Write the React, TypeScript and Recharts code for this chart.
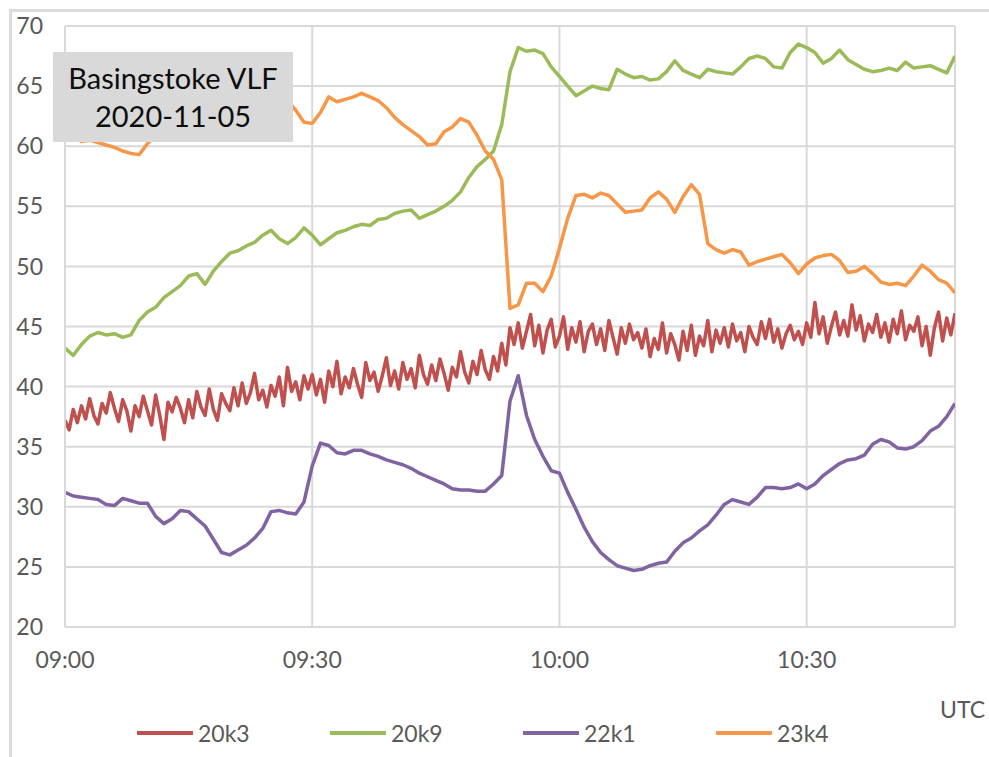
import React from 'react';
import { LineChart, Line, XAxis, YAxis, CartesianGrid } from 'recharts';

const seriesNames = ['20k3', '20k9', '22k1', '23k4'];
const seriesColors = ['#C0504D', '#9BBB59', '#8064A2', '#F79646'];

const xTicks = [0, 30, 60, 90]; // minutes after 09:00
const xTickLabels = ['09:00', '09:30', '10:00', '10:30'];
const yTicks = [20, 25, 30, 35, 40, 45, 50, 55, 60, 65, 70];

// 20k3 is noisy, read every 30 s from 09:00
const sig20k3 = [
  37.2, 36.4, 38.1, 37.0, 38.4, 37.3, 39.0, 37.6, 36.9, 38.6,
  37.8, 39.5, 38.2, 37.1, 38.9, 38.0, 36.3, 38.4, 37.5, 39.2,
  38.0, 36.8, 39.3, 37.6, 35.6, 38.7, 37.9, 39.1, 38.2, 37.0,
  38.9, 37.4, 39.6, 38.3, 37.6, 39.8, 38.1, 37.2, 39.4, 38.6,
  38.0, 39.9, 38.4, 40.3, 38.6, 39.5, 41.1, 38.9, 39.7, 38.3,
  40.1, 39.2, 40.8, 38.4, 41.6, 39.6, 40.4, 38.9, 40.9, 39.8,
  41.0, 39.3, 40.6, 38.7, 41.3, 40.0, 42.1, 39.4, 40.8, 39.9,
  41.5, 40.2, 39.1, 42.0, 40.5, 41.2, 39.6, 40.9, 42.4, 40.1,
  41.3, 39.8, 42.0, 40.6, 41.5, 39.9, 42.6, 41.0, 40.2, 41.8,
  40.5, 42.3, 41.1, 39.7, 41.6, 40.8, 42.9, 41.2, 40.3, 42.1,
  41.0, 43.0, 41.4, 40.6, 42.5, 41.3, 43.6, 41.8, 44.9, 43.5,
  45.3, 43.2, 44.6, 46.0, 43.4, 45.1, 42.8, 44.7, 45.6, 43.3,
  44.2, 45.8, 43.1, 44.9, 43.7, 45.4, 42.9, 44.6, 45.2, 43.5,
  44.8, 43.0, 45.5, 44.1, 42.7, 44.9, 43.6, 45.2, 43.9, 44.5,
  43.2, 44.8, 42.5, 44.0, 43.1, 45.3, 42.8, 44.4, 43.5, 42.2,
  44.6, 43.0, 45.1, 42.6, 44.2, 43.4, 45.5, 42.9, 44.7, 43.6,
  44.9, 43.3, 45.2, 43.8, 44.5, 42.9, 45.0, 44.1, 43.5, 45.4,
  44.0, 45.6, 43.7, 44.8, 43.2, 44.4, 45.1, 43.9, 44.6, 43.5,
  45.3, 44.1, 47.0, 44.4, 45.8, 43.6, 45.0, 46.2, 44.3, 45.5,
  44.2, 46.8, 44.7, 45.9, 43.8, 45.2, 44.5, 46.0, 44.1, 45.3,
  43.7, 45.6, 44.4, 46.3, 43.9, 45.1, 44.6, 45.8, 43.4, 45.0,
  42.6, 44.9, 46.2, 43.8, 45.7, 44.3, 46.1,
];

// the other three, one reading a minute
const sig20k9 = [
  43.2, 42.6, 43.5, 44.2, 44.5, 44.3, 44.4, 44.1, 44.3, 45.5,
  46.2, 46.6, 47.4, 47.9, 48.4, 49.2, 49.4, 48.5, 49.6, 50.4,
  51.1, 51.3, 51.7, 52.0, 52.6, 53.0, 52.3, 51.9, 52.4, 53.2,
  52.6, 51.8, 52.3, 52.8, 53.0, 53.3, 53.5, 53.4, 53.9, 54.0,
  54.4, 54.6, 54.7, 54.0, 54.3, 54.6, 55.0, 55.5, 56.2, 57.4,
  58.3, 58.9, 59.6, 61.8, 66.2, 68.2, 67.9, 68.0, 67.7, 66.6,
  65.8, 65.0, 64.2, 64.6, 65.0, 64.8, 64.7, 66.4, 66.0, 65.7,
  65.8, 65.5, 65.6, 66.2, 67.1, 66.3, 66.0, 65.7, 66.4, 66.2,
  66.1, 66.0, 66.6, 67.3, 67.5, 67.3, 66.6, 66.5, 67.8, 68.5,
  68.2, 67.8, 66.9, 67.3, 68.0, 67.2, 66.8, 66.4, 66.2, 66.3,
  66.5, 66.3, 67.0, 66.5, 66.6, 66.7, 66.4, 66.1, 67.5,
];

const sig22k1 = [
  31.2, 30.9, 30.8, 30.7, 30.6, 30.2, 30.1, 30.7, 30.5, 30.3,
  30.3, 29.2, 28.6, 29.0, 29.7, 29.6, 29.0, 28.4, 27.3, 26.2,
  26.0, 26.4, 26.8, 27.4, 28.2, 29.6, 29.7, 29.5, 29.4, 30.4,
  33.4, 35.3, 35.1, 34.5, 34.4, 34.7, 34.7, 34.4, 34.2, 33.9,
  33.7, 33.5, 33.2, 32.8, 32.5, 32.2, 31.9, 31.5, 31.4, 31.4,
  31.3, 31.3, 31.9, 32.6, 38.8, 40.9, 37.6, 35.6, 34.2, 33.0,
  32.8, 31.2, 29.8, 28.3, 27.1, 26.2, 25.6, 25.1, 24.9, 24.7,
  24.8, 25.1, 25.3, 25.4, 26.3, 27.0, 27.4, 28.0, 28.5, 29.3,
  30.2, 30.6, 30.4, 30.2, 30.8, 31.6, 31.6, 31.5, 31.6, 31.9,
  31.5, 31.9, 32.6, 33.1, 33.6, 33.9, 34.0, 34.3, 35.2, 35.6,
  35.4, 34.9, 34.8, 35.0, 35.5, 36.3, 36.7, 37.5, 38.6,
];

const sig23k4 = [
  60.6, 60.8, 60.4, 60.5, 60.3, 60.1, 59.9, 59.6, 59.4, 59.3,
  60.2, 60.9, 61.5, 62.0, 62.4, 62.8, 63.2, 63.5, 63.8, 64.0,
  64.3, 64.5, 64.7, 64.6, 64.9, 64.4, 64.3, 63.8, 63.0, 62.0,
  61.9, 62.8, 64.1, 63.7, 63.9, 64.1, 64.4, 64.1, 63.8, 63.2,
  62.4, 61.8, 61.3, 60.8, 60.1, 60.2, 61.2, 61.6, 62.3, 62.0,
  60.9, 59.6, 58.9, 57.2, 46.5, 46.8, 48.6, 48.6, 47.9, 49.2,
  51.5, 54.0, 55.9, 56.0, 55.7, 56.1, 55.9, 55.2, 54.5, 54.6,
  54.7, 55.7, 56.2, 55.6, 54.5, 55.8, 56.8, 56.0, 51.9, 51.4,
  51.1, 51.4, 51.2, 50.1, 50.4, 50.6, 50.8, 51.0, 50.3, 49.4,
  50.2, 50.7, 50.9, 51.0, 50.5, 49.5, 49.6, 50.0, 49.4, 48.7,
  48.5, 48.6, 48.4, 49.2, 50.1, 49.6, 48.9, 48.6, 47.8,
];

const data20k3 = sig20k3.map((v, i) => ({ t: i / 2, v }));
const dataMin = sig20k9.map((_, i) => ({
  t: i,
  s20k9: sig20k9[i],
  s22k1: sig22k1[i],
  s23k4: sig23k4[i],
}));

const tickStyle = { fill: '#595959', fontSize: 23, fontFamily: 'Lato' };
const gridColor = '#d9d9d9';
const lineWidth = 3.5;

export default function App() {
  return (
    <div
      style={{
        position: 'absolute',
        left: 0,
        top: 0,
        width: 989,
        height: 757,
        background: '#fff',
        overflow: 'hidden',
        fontFamily: 'Lato, sans-serif',
      }}
    >
      {/* outer chart frame, cut off at right and bottom */}
      <div
        style={{
          position: 'absolute',
          left: 9,
          top: 9,
          width: 1100,
          height: 900,
          borderTop: '3px solid #dcdcdc',
          borderLeft: '3px solid #dcdcdc',
        }}
      />
      <LineChart
        width={989}
        height={757}
        data={dataMin}
        margin={{ top: 26, right: 34, bottom: 100, left: 0 }}
        style={{ position: 'absolute', left: 0, top: 0 }}
      >
        <CartesianGrid stroke={gridColor} strokeWidth={2} />
        <XAxis
          dataKey="t"
          type="number"
          domain={[0, 108]}
          ticks={xTicks}
          tickFormatter={(t: number) => xTickLabels[xTicks.indexOf(t)]}
          tick={tickStyle}
          tickLine={false}
          tickMargin={19}
          height={30}
          axisLine={{ stroke: gridColor, strokeWidth: 2 }}
          allowDataOverflow
        />
        <YAxis
          type="number"
          domain={[20, 70]}
          ticks={yTicks}
          tick={tickStyle}
          tickLine={false}
          tickMargin={16}
          width={65}
          axisLine={{ stroke: gridColor, strokeWidth: 2 }}
        />
        <Line
          data={data20k3}
          dataKey="v"
          name={seriesNames[0]}
          stroke={seriesColors[0]}
          strokeWidth={lineWidth}
          strokeLinejoin="round"
          dot={false}
          type="linear"
          isAnimationActive={false}
        />
        <Line
          dataKey="s20k9"
          name={seriesNames[1]}
          stroke={seriesColors[1]}
          strokeWidth={lineWidth}
          strokeLinejoin="round"
          dot={false}
          type="linear"
          isAnimationActive={false}
        />
        <Line
          dataKey="s22k1"
          name={seriesNames[2]}
          stroke={seriesColors[2]}
          strokeWidth={lineWidth}
          strokeLinejoin="round"
          dot={false}
          type="linear"
          isAnimationActive={false}
        />
        <Line
          dataKey="s23k4"
          name={seriesNames[3]}
          stroke={seriesColors[3]}
          strokeWidth={lineWidth}
          strokeLinejoin="round"
          dot={false}
          type="linear"
          isAnimationActive={false}
        />
      </LineChart>

      {/* title box */}
      <div
        style={{
          position: 'absolute',
          left: 53,
          top: 52,
          width: 240,
          height: 90,
          background: '#d9d9d9',
          color: '#0d0d0d',
          fontSize: 29,
          lineHeight: '38px',
          textAlign: 'center',
          paddingTop: 7,
          boxSizing: 'border-box',
        }}
      >
        <div>Basingstoke VLF</div>
        <div>2020-11-05</div>
      </div>

      {/* axis unit */}
      <div
        style={{
          position: 'absolute',
          left: 940,
          top: 695,
          fontSize: 23,
          color: '#595959',
          whiteSpace: 'nowrap',
        }}
      >
        UTC
      </div>

      {/* legend */}
      {seriesNames.map((name, i) => (
        <div
          key={name}
          style={{
            position: 'absolute',
            left: 137 + i * 193,
            top: 719,
            display: 'flex',
            alignItems: 'center',
            fontSize: 23,
            color: '#595959',
          }}
        >
          <span
            style={{
              display: 'inline-block',
              width: 56,
              height: 4,
              background: seriesColors[i],
              marginRight: 5,
            }}
          />
          <span>{name}</span>
        </div>
      ))}
    </div>
  );
}
